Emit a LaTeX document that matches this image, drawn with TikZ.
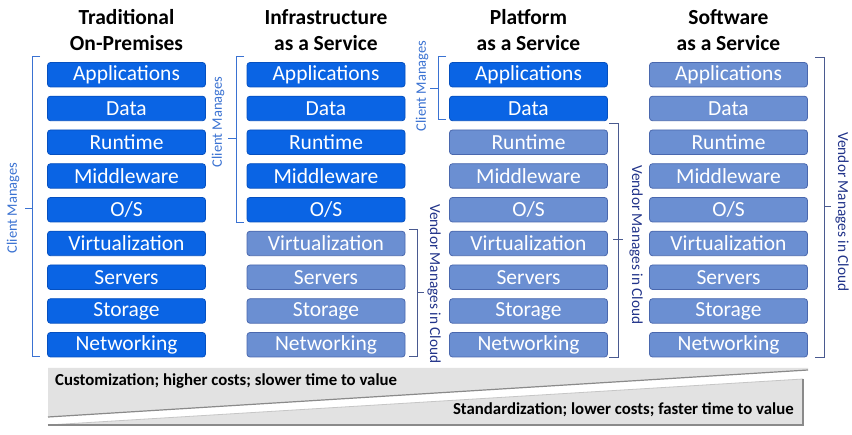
\documentclass[tikz,border=0pt]{standalone}
\usepackage{fontspec}
\setmainfont{Carlito}
\definecolor{cblue}{HTML}{0A64E4}
\definecolor{cblueb}{HTML}{0550C0}
\definecolor{vblue}{HTML}{6B8FD2}
\definecolor{vblueb}{HTML}{4A68AE}
\definecolor{ctext}{HTML}{3A72D2}
\definecolor{vtext}{HTML}{22348A}
\definecolor{vbr}{HTML}{4A5A90}
\definecolor{wedge}{HTML}{E2E2E2}
\definecolor{wedgeedge}{HTML}{8A8A8A}
\begin{document}
\begin{tikzpicture}[x=1pt,y=-1pt,
  box/.style={rounded corners=3pt, minimum width=158pt, minimum height=24.5pt, inner sep=0pt,
    font=\fontsize{21.5}{21.5}\selectfont, text=white, line width=0.8pt},
  cbox/.style={box, fill=cblue, draw=cblueb},
  vbox/.style={box, fill=vblue, draw=vblueb},
  hdr/.style={font=\bfseries\fontsize{21.5}{26}\selectfont, align=center, inner sep=0pt},
  cbr/.style={draw=ctext, line width=1pt},
  vbrk/.style={draw=vbr, line width=1pt},
  clab/.style={font=\fontsize{14.5}{14.5}\selectfont, text=ctext, rotate=90, inner sep=0pt},
  vlab/.style={font=\fontsize{15.3}{15.3}\selectfont, text=vtext, rotate=-90, inner sep=0pt},
  blab/.style={font=\bfseries\fontsize{16.8}{16.8}\selectfont, text=black, inner sep=0pt}]
\useasboundingbox (0,0) rectangle (852,435);
\fill[white] (0,0) rectangle (852,435);

% headers
\node[hdr] (h1) at (126.5,30) {Traditional\\On-Premises};
\node[hdr] (h2) at (326,30) {Infrastructure\\as a Service};
\node[hdr] (h3) at (528.5,30) {Platform\\as a Service};
\node[hdr] (h4) at (728.5,30) {Software\\as a Service};

% boxes
\foreach \t [count=\i from 0] in {Applications,Data,Runtime,Middleware,O/S,Virtualization,Servers,Storage,Networking}{
  \node[cbox] (a\i) at (126.5,{74.75+33.75*\i}) {\t};
  \ifnum\i<5 \def\st{cbox}\else\def\st{vbox}\fi
  \node[\st] (b\i) at (326,{74.75+33.75*\i}) {\t};
  \ifnum\i<2 \def\st{cbox}\else\def\st{vbox}\fi
  \node[\st] (c\i) at (528.5,{74.75+33.75*\i}) {\t};
  \node[vbox] (d\i) at (728.5,{74.75+33.75*\i}) {\t};
}

% brackets
\draw[cbr] (40,57) -- (32,57) -- (32,357) -- (40,357);
\draw[cbr] (32,209) -- (25,209);
\node[clab] (l1) at (13,208) {Client Manages};

\draw[cbr] (244,57) -- (236,57) -- (236,223) -- (244,223);
\draw[cbr] (236,139) -- (228,139);
\node[clab] (l2) at (218,122) {Client Manages};

\draw[vbrk] (409,230) -- (417,230) -- (417,357) -- (409,357);
\draw[vbrk] (417,293) -- (424,293);
\node[vlab] (l3) at (434,284) {Vendor Manages in Cloud};

\draw[cbr] (446,57) -- (438,57) -- (438,120) -- (446,120);
\draw[cbr] (438,89) -- (430,89);
\node[clab] (l4) at (422,86) {Client Manages};

\draw[vbrk] (609,124) -- (618,124) -- (618,358) -- (609,358);
\draw[vbrk] (613,240) -- (623,240);
\node[vlab] (l5) at (636,245) {Vendor Manages in Cloud};

\draw[vbrk] (815,58) -- (824,58) -- (824,358) -- (815,358);
\draw[vbrk] (824,207) -- (831,207);
\node[vlab] (l6) at (842,212) {Vendor Manages in Cloud};

% wedges
\fill[wedge] (48,368) -- (808,368) -- (808,370) -- (48,417) -- cycle;
\draw[wedgeedge, line width=1.2pt] (48,417) -- (808,370);
\fill[wedge] (48,425) -- (803,379) -- (803,425) -- cycle;
\draw[gray!45, line width=0.8pt] (48,425) -- (803,379);
\draw[wedgeedge, line width=1.2pt] (803,379) -- (803,425) -- (48,425);

\node[blab, anchor=west] (cust) at (55,381) {Customization; higher costs; slower time to value};
\node[blab, anchor=east] (std) at (794,410) {Standardization; lower costs; faster time to value};
\end{tikzpicture}
\end{document}
